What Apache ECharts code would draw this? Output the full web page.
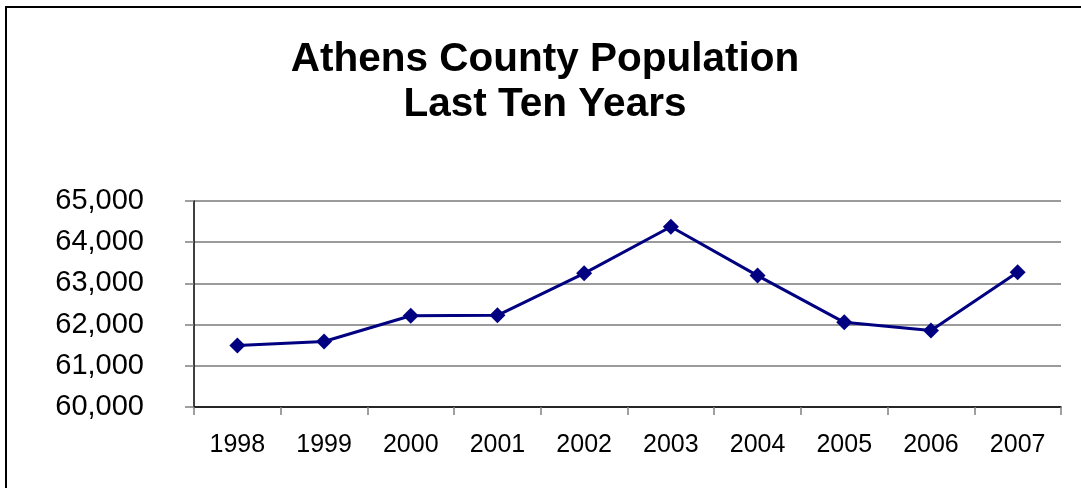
<!DOCTYPE html>
<html>
<head>
<meta charset="utf-8">
<script src="https://cdn.jsdelivr.net/npm/echarts@6/dist/echarts.min.js"></script>
<style>
html,body{margin:0;padding:0;background:#fff;overflow:hidden;width:1081px;height:488px;}
#frame{position:absolute;left:5px;top:6px;width:1090px;height:500px;border:2px solid #000;box-sizing:border-box;}
#chart{position:absolute;left:0;top:0;width:1090px;height:488px;}
</style>
</head>
<body>
<div id="frame"></div>
<div id="chart"></div>
<script>
const titleLines = ["Athens County Population", "Last Ten Years"];
const years = ["1998","1999","2000","2001","2002","2003","2004","2005","2006","2007"];
const population = [61490, 61590, 62215, 62225, 63245, 64375, 63190, 62055, 61855, 63270];
const yMin = 60000, yMax = 65000, yStep = 1000;

const chart = echarts.init(document.getElementById('chart'), null, {renderer: 'canvas'});
chart.setOption({
  backgroundColor: 'transparent',
  animation: false,
  title: {
    text: titleLines.join('\n'),
    left: 'center',
    top: 32,
    textStyle: {fontFamily: 'Liberation Sans, Arial', fontWeight: 'bold', fontSize: 40.5, lineHeight: 45, color: '#000'}
  },
  grid: {left: 194, right: 29, top: 201, bottom: 81, containLabel: false},
  xAxis: {
    type: 'category',
    data: years,
    boundaryGap: true,
    axisLine: {lineStyle: {color: '#000', width: 1.5}},
    axisTick: {show: true, length: 8, lineStyle: {color: '#808080', width: 1.5}},
    axisLabel: {fontFamily: 'Liberation Sans, Arial', fontSize: 25, color: '#000', margin: 26},
    splitLine: {show: false}
  },
  yAxis: {
    type: 'value',
    min: yMin, max: yMax, interval: yStep,
    axisLine: {show: true, lineStyle: {color: '#000', width: 1.5}},
    axisTick: {show: true, length: 9, lineStyle: {color: '#808080', width: 1.5}},
    axisLabel: {fontFamily: 'Liberation Sans, Arial', fontSize: 29, color: '#000', margin: 50,
      formatter: v => v.toString().replace(/\B(?=(\d{3})+(?!\d))/g, ',')},
    splitLine: {show: true, lineStyle: {color: '#7a7a7a', width: 1.5}}
  },
  series: [{
    type: 'line',
    data: population,
    symbol: 'diamond',
    symbolSize: 16,
    lineStyle: {color: '#000080', width: 3},
    itemStyle: {color: '#000080'}
  }]
});
</script>
</body>
</html>
